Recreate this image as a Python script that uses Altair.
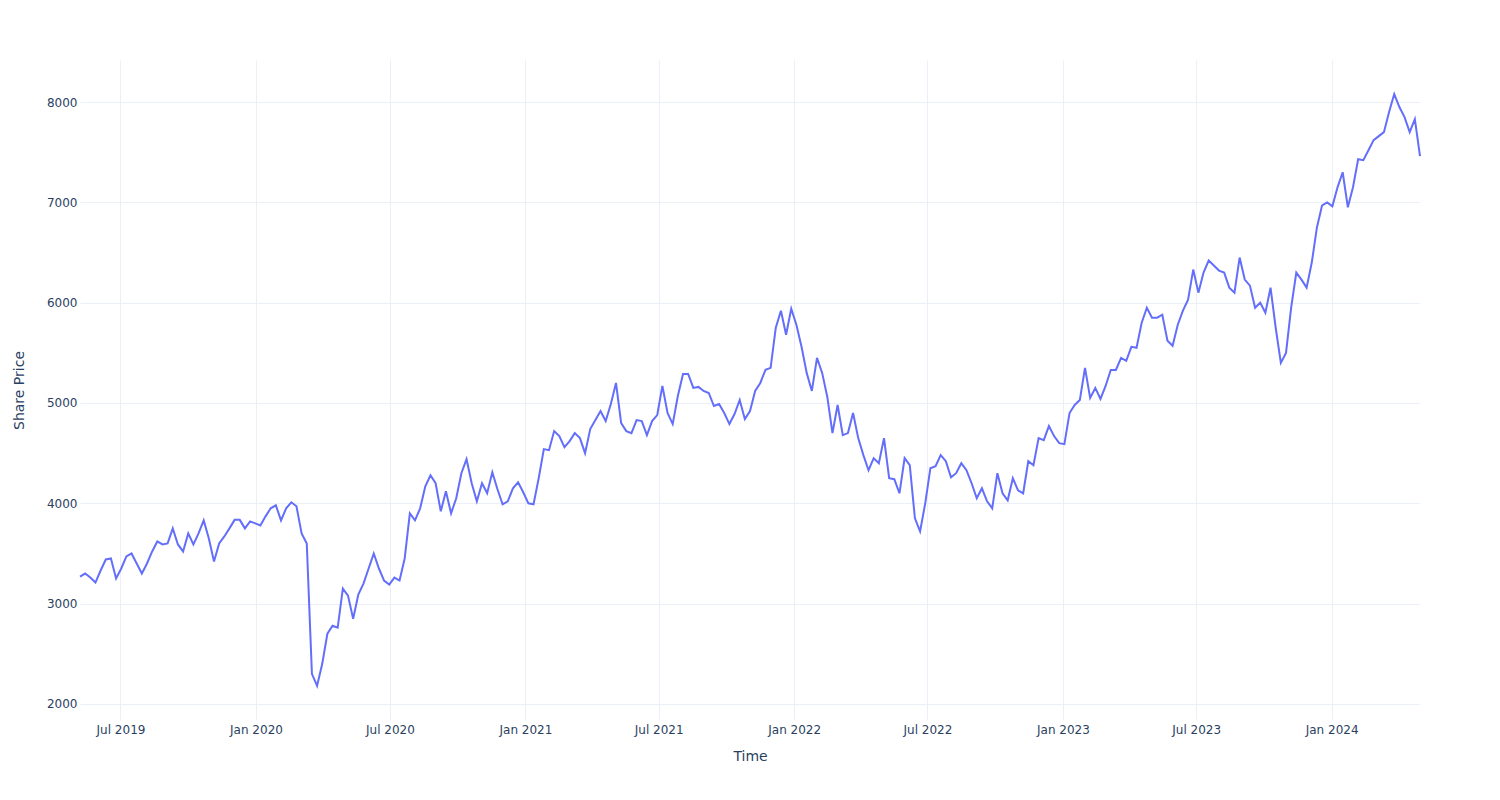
import altair as alt
import pandas as pd

# Weekly closing share prices
start_date = "2019-05-07"
prices = [
    3270, 3300, 3260, 3210, 3330, 3440, 3450, 3250, 3350, 3470,
    3500, 3400, 3300, 3400, 3520, 3620, 3590, 3600, 3750, 3590,
    3520, 3700, 3590, 3700, 3830, 3650, 3420, 3600, 3670, 3750,
    3835, 3835, 3750, 3820, 3800, 3780, 3870, 3950, 3980, 3830,
    3950, 4010, 3970, 3700, 3600, 2300, 2180, 2400, 2700, 2780,
    2760, 3150, 3080, 2850, 3090, 3200, 3350, 3500, 3350, 3230,
    3190, 3260, 3230, 3450, 3900, 3830, 3950, 4170, 4280, 4200,
    3920, 4120, 3900, 4050, 4300, 4440, 4200, 4020, 4200, 4100,
    4310, 4140, 3990, 4020, 4150, 4210, 4110, 4000, 3990, 4250,
    4540, 4530, 4720, 4670, 4560, 4620, 4700, 4650, 4500, 4740,
    4830, 4920, 4820, 4990, 5200, 4800, 4720, 4700, 4830, 4820,
    4680, 4820, 4880, 5170, 4900, 4790, 5070, 5290, 5290, 5150,
    5160, 5120, 5100, 4970, 4990, 4900, 4790, 4890, 5030, 4840,
    4920, 5120, 5200, 5330, 5350, 5750, 5920, 5680, 5940, 5780,
    5560, 5300, 5120, 5450, 5300, 5060, 4700, 4980, 4680, 4700,
    4900, 4650, 4480, 4330, 4450, 4400, 4650, 4250, 4240, 4100,
    4450, 4380, 3850, 3720, 4000, 4350, 4370, 4480, 4420, 4260,
    4300, 4400, 4330, 4200, 4050, 4150, 4020, 3950, 4300, 4100,
    4030, 4250, 4130, 4100, 4420, 4380, 4650, 4630, 4770, 4670,
    4600, 4590, 4900, 4980, 5030, 5350, 5050, 5150, 5040, 5170,
    5330, 5330, 5450, 5420, 5560, 5550, 5800, 5950, 5850, 5850,
    5880, 5620, 5570, 5780, 5920, 6030, 6330, 6100, 6300, 6420,
    6370, 6320, 6300, 6150, 6100, 6450, 6230, 6170, 5950, 6000,
    5900, 6150, 5750, 5400, 5500, 5950, 6300, 6230, 6150, 6400,
    6750, 6970, 7000, 6960, 7150, 7300, 6950, 7150, 7430, 7420,
    7520, 7620, 7660, 7700, 7900, 8080, 7950, 7850, 7700, 7830,
    7460,
]
dates = pd.date_range(start_date, periods=len(prices), freq="7D")

y_ticks = [2000, 3000, 4000, 5000, 6000, 7000, 8000]
x_ticks = [(2019, 7), (2020, 1), (2020, 7), (2021, 1), (2021, 7),
           (2022, 1), (2022, 7), (2023, 1), (2023, 7), (2024, 1)]

df = pd.DataFrame({"date": dates, "price": prices})

FONT = "DejaVu Sans"
TXT = "#2a3f5f"
GRID = "#EBF0F8"

chart = alt.Chart(df).mark_line(color="#636efa", strokeWidth=2).encode(
    x=alt.X(
        "date:T",
        title="Time",
        scale=alt.Scale(nice=False),
        axis=alt.Axis(
            values=[alt.DateTime(year=y, month=m, date=1) for y, m in x_ticks],
            format="%b %Y",
            grid=True,
            gridColor=GRID,
            domain=False,
            ticks=False,
            labelFont=FONT,
            labelFontSize=12,
            labelColor=TXT,
            labelPadding=4,
            titleFont=FONT,
            titleFontSize=14,
            titleColor=TXT,
            titleFontWeight="normal",
            titlePadding=14,
        ),
    ),
    y=alt.Y(
        "price:Q",
        title="Share Price",
        scale=alt.Scale(domain=[1840, 8419], nice=False, zero=False),
        axis=alt.Axis(
            values=y_ticks,
            format="d",
            grid=True,
            gridColor=GRID,
            domain=False,
            ticks=False,
            labelFont=FONT,
            labelFontSize=12,
            labelColor=TXT,
            labelPadding=3,
            titleFont=FONT,
            titleFontSize=14,
            titleColor=TXT,
            titleFontWeight="normal",
            titlePadding=20,
        ),
    ),
).properties(
    width=1340,
    height=660,
    autosize="none",
    padding={"left": 80, "top": 60, "right": 80, "bottom": 80},
    background="white",
).configure_view(stroke=None)

chart.save("out.html", embed_options={"renderer": "svg", "actions": False})
